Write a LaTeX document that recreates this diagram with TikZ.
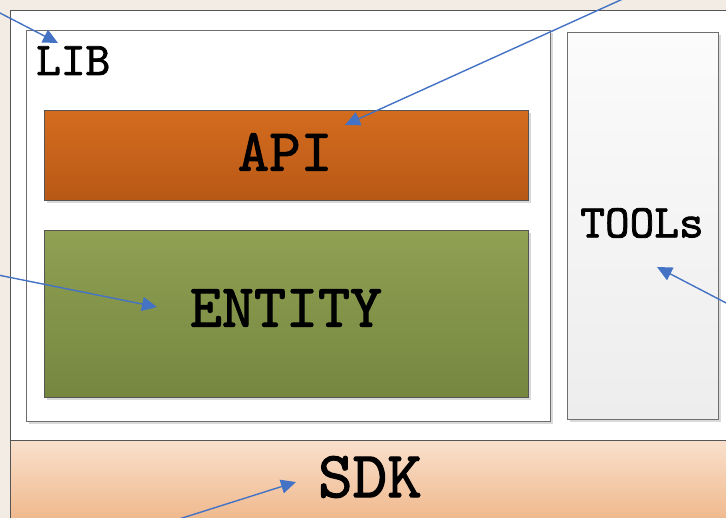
\documentclass[tikz,border=0pt]{standalone}
\usepackage{fontspec}
\usetikzlibrary{arrows.meta,shadows}

% slightly heavier typewriter face for the box captions
\newfontfamily\boxfont{lmmono10-regular.otf}[FakeBold=1.6]

\definecolor{pagebg}{RGB}{242,236,228}
\definecolor{framec}{RGB}{85,85,85}
\definecolor{boxc}{RGB}{110,110,110}
\definecolor{apitop}{RGB}{212,108,30}
\definecolor{apibot}{RGB}{184,88,22}
\definecolor{enttop}{RGB}{144,161,84}
\definecolor{entbot}{RGB}{117,134,63}
\definecolor{tooltop}{RGB}{251,251,251}
\definecolor{toolbot}{RGB}{237,237,237}
\definecolor{sdktop}{RGB}{249,224,204}
\definecolor{sdkbot}{RGB}{237,174,124}
\definecolor{pointer}{RGB}{68,114,196}

\begin{document}
\begin{tikzpicture}[x=1pt,y=-1pt,
  panel/.style={rectangle, anchor=north west, inner sep=0pt, line width=1.4pt},
  softshadow/.style={drop shadow={shadow xshift=2pt, shadow yshift=-2pt, opacity=0.15, fill=black}},
  caption/.style={inner sep=0pt, text=black},
  pointerline/.style={draw=pointer, line width=1.4pt,
    -{Triangle[length=15pt,width=14pt]}}
]
\useasboundingbox (0,0) rectangle (726,518);
\clip (0,0) rectangle (726,518);
\fill[pagebg] (0,0) rectangle (726,518);

% outer frame and SDK band
\node[panel, draw=framec, fill=white, minimum width=740pt, minimum height=530pt] (frame) at (10,10) {};
\node[panel, draw=framec, top color=sdktop, bottom color=sdkbot, minimum width=740pt, minimum height=100pt] (sdk) at (10,440) {};

% LIB container
\node[panel, draw=boxc, fill=white, softshadow, minimum width=524pt, minimum height=391pt] (lib) at (26,30) {};
\node[panel, draw=framec, top color=apitop, bottom color=apibot, softshadow, minimum width=484pt, minimum height=90pt] (api) at (44,110) {};
\node[panel, draw=framec, top color=enttop, bottom color=entbot, softshadow, minimum width=484pt, minimum height=167pt] (entity) at (44,230) {};

% TOOLs column
\node[panel, draw=boxc, top color=tooltop, bottom color=toolbot, softshadow, minimum width=151pt, minimum height=387pt] (tools) at (567,32) {};

% labels
\node[caption, font=\boxfont\fontsize{47}{47}\selectfont, anchor=base west] (libtext) at (36,75) {LIB};
\node[caption, font=\boxfont\fontsize{60}{60}\selectfont] (apitext) at (285,152) {API};
\node[caption, font=\boxfont\fontsize{61}{61}\selectfont] (enttext) at (286,308) {ENTITY};
\node[caption, font=\boxfont\fontsize{47}{47}\selectfont] (tooltext) at (642,223) {TOOLs};
\node[caption, font=\boxfont\fontsize{66}{66}\selectfont] (sdktext) at (370,477) {SDK};

% pointer arrows
\coordinate (libfrom) at (-2,12);
\coordinate (libto) at (58,43);
\coordinate (apifrom) at (625,-2);
\coordinate (apito) at (345,125);
\coordinate (entfrom) at (-2,275);
\coordinate (entto) at (157,307);
\coordinate (toolfrom) at (730,305);
\coordinate (toolto) at (657,267);
\coordinate (sdkfrom) at (176,520);
\coordinate (sdkto) at (296,482);

\draw[pointerline] (libfrom) -- (libto);
\draw[pointerline] (apifrom) -- (apito);
\draw[pointerline] (entfrom) -- (entto);
\draw[pointerline] (toolfrom) -- (toolto);
\draw[pointerline] (sdkfrom) -- (sdkto);
\end{tikzpicture}
\end{document}
